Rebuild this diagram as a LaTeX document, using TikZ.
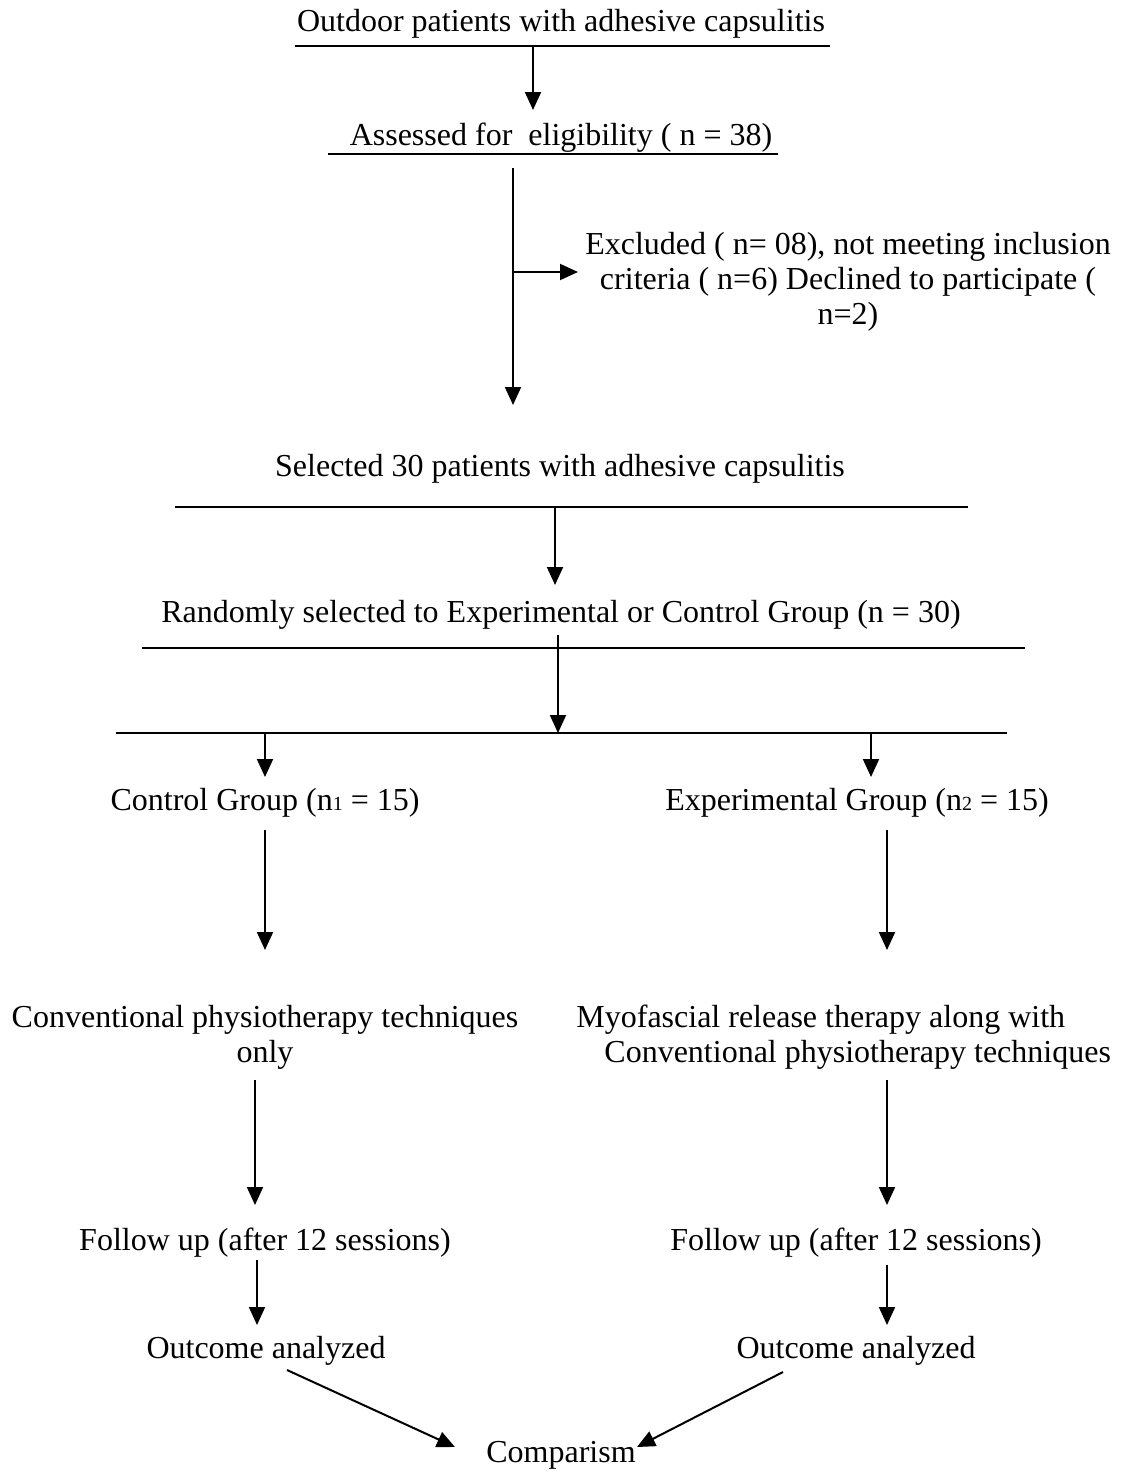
\documentclass[tikz,border=0pt]{standalone}
\usepackage{fontspec}
\setmainfont{Liberation Serif}
\usetikzlibrary{arrows.meta,positioning}

\newcommand{\subn}[1]{{\fontsize{10}{10}\selectfont #1}}

\begin{document}
\begin{tikzpicture}[x=0.5pt,y=-0.5pt,
    txt/.style={inner sep=0pt, font=\fontsize{16}{17.5}\selectfont},
    arr/.style={line width=1pt, -{Triangle[length=9pt,width=8pt]}},
    rule/.style={line width=0.8pt}]
    \useasboundingbox (0,0) rectangle (1135,1472);

    \node[txt, anchor=base] (outdoor) at (561,32) {Outdoor patients with adhesive capsulitis};
    \node[txt, anchor=base] (assess) at (561,145) {Assessed for \ eligibility ( n = 38)};
    \node[txt, anchor=north, align=center] (excl) at (848,232) {Excluded ( n= 08), not meeting inclusion\\criteria ( n=6) Declined to participate (\\n=2)};
    \node[txt, anchor=base] (select) at (560,476) {Selected 30 patients with adhesive capsulitis};
    \node[txt, anchor=base] (random) at (561,622) {Randomly selected to Experimental or Control Group (n = 30)};
    \node[txt, anchor=base] (ctrl) at (265,810) {Control Group (n\subn{1} = 15)};
    \node[txt, anchor=base] (expt) at (857,810) {Experimental Group (n\subn{2} = 15)};
    \node[txt, anchor=north, align=center] (conv) at (265,1005) {Conventional physiotherapy techniques\\only};
    \node[txt, anchor=north west, align=left] (mfr) at (576,1005) {Myofascial release therapy along with\\\hspace*{14pt}Conventional physiotherapy techniques};
    \node[txt, anchor=base] (follow1) at (265,1250) {Follow up (after 12 sessions)};
    \node[txt, anchor=base] (follow2) at (856,1250) {Follow up (after 12 sessions)};
    \node[txt, anchor=base] (out1) at (266,1358) {Outcome analyzed};
    \node[txt, anchor=base] (out2) at (856,1358) {Outcome analyzed};
    \node[txt, anchor=base] (comp) at (561,1462) {Comparism};

    \coordinate (r1a) at (295,46); \coordinate (r1b) at (830,46);
    \coordinate (r2a) at (328,154); \coordinate (r2b) at (778,154);
    \coordinate (r3a) at (175,507); \coordinate (r3b) at (968,507);
    \coordinate (r4a) at (142,648); \coordinate (r4b) at (1025,648);
    \coordinate (r5a) at (116,733); \coordinate (r5b) at (1007,733);
    \draw[rule] (r1a) -- (r1b); \draw[rule] (r2a) -- (r2b); \draw[rule] (r3a) -- (r3b);
    \draw[rule] (r4a) -- (r4b); \draw[rule] (r5a) -- (r5b);

    \coordinate (a1s) at (533,46); \coordinate (a1e) at (533,110);
    \coordinate (a2s) at (513,168); \coordinate (a2e) at (513,405);
    \coordinate (a2m) at (513,272); \coordinate (a2x) at (578,272);
    \coordinate (a3s) at (555,507); \coordinate (a3e) at (555,585);
    \coordinate (a4s) at (558,635); \coordinate (a4e) at (558,733);
    \draw[arr] (a1s) -- (a1e);
    \draw[line width=1pt] (a2s) -- (a2m); \draw[arr] (a2m) -- (a2e); \draw[arr] (a2m) -- (a2x);
    \draw[arr] (a3s) -- (a3e);
    \draw[arr] (a4s) -- (a4e);

    \coordinate (l1s) at (265,733); \coordinate (l1e) at (265,777);
    \coordinate (l2s) at (265,830); \coordinate (l2e) at (265,950);
    \coordinate (l3s) at (255,1080); \coordinate (l3e) at (255,1205);
    \coordinate (l4s) at (257,1260); \coordinate (l4e) at (257,1325);
    \coordinate (g1s) at (871,733); \coordinate (g1e) at (871,777);
    \coordinate (g2s) at (887,830); \coordinate (g2e) at (887,950);
    \coordinate (g3s) at (887,1080); \coordinate (g3e) at (887,1205);
    \coordinate (g4s) at (887,1265); \coordinate (g4e) at (887,1325);
    \draw[arr] (l1s) -- (l1e); \draw[arr] (l2s) -- (l2e); \draw[arr] (l3s) -- (l3e); \draw[arr] (l4s) -- (l4e);
    \draw[arr] (g1s) -- (g1e); \draw[arr] (g2s) -- (g2e); \draw[arr] (g3s) -- (g3e); \draw[arr] (g4s) -- (g4e);

    \coordinate (d1s) at (287,1370); \coordinate (d1e) at (455,1447);
    \coordinate (d2s) at (783,1372); \coordinate (d2e) at (637,1447);
    \draw[arr] (d1s) -- (d1e); \draw[arr] (d2s) -- (d2e);
\end{tikzpicture}
\end{document}
